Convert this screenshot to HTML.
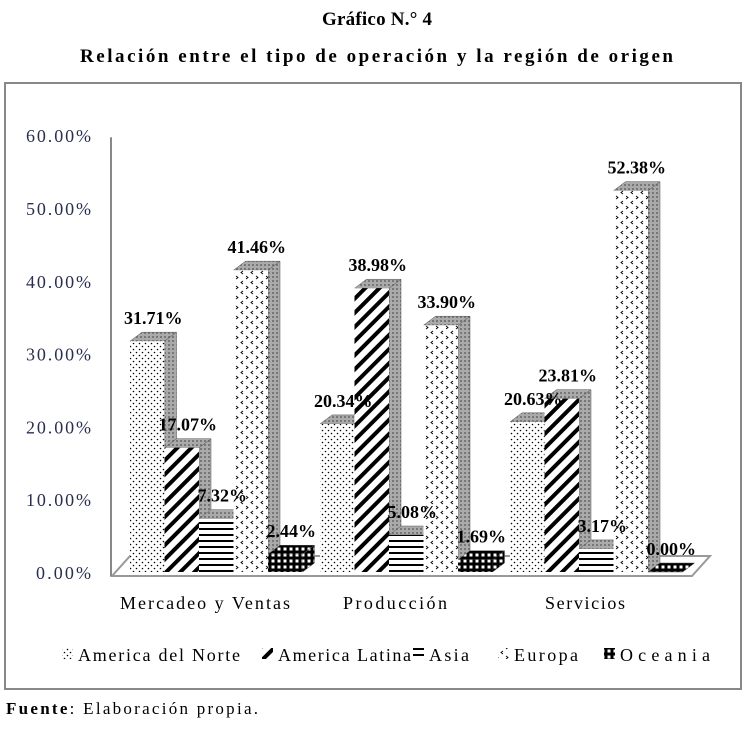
<!DOCTYPE html>
<html><head><meta charset="utf-8"><style>
body{margin:0;background:#fff;width:754px;height:745px;overflow:hidden;font-family:"Liberation Serif",serif}
</style></head><body>
<svg width="754" height="745" xmlns="http://www.w3.org/2000/svg">
<defs>
<pattern id="pN" width="6" height="6" patternUnits="userSpaceOnUse"><rect width="6" height="6" fill="#fff"/><circle cx="1.5" cy="1.5" r="0.8" fill="#000"/><circle cx="4.5" cy="4.5" r="0.8" fill="#000"/></pattern>
<pattern id="pL" width="10" height="10" patternUnits="userSpaceOnUse" patternTransform="rotate(45)"><rect width="10" height="10" fill="#fff"/><rect width="4" height="10" fill="#000"/></pattern>
<pattern id="pA" width="6" height="6" patternUnits="userSpaceOnUse"><rect width="6" height="6" fill="#fff"/><rect y="0" width="6" height="2" fill="#000"/></pattern>
<pattern id="pE" width="10" height="10" patternUnits="userSpaceOnUse"><rect width="10" height="10" fill="#fff"/><path d="M3 1 L1 2.5 L3 4 M6 6 L8 7.5 L6 9" stroke="#000" stroke-width="0.9" fill="none"/></pattern>
<pattern id="pO" width="6" height="6" patternUnits="userSpaceOnUse"><rect width="6" height="6" fill="#000"/><rect x="1.5" y="1.5" width="3" height="3" fill="#fff"/></pattern>
<pattern id="pS" width="4" height="4" patternUnits="userSpaceOnUse"><rect width="4" height="4" fill="#aaa"/><rect width="2" height="2" fill="#777"/></pattern>
</defs>
<text x="322" y="25" textLength="110" font-size="19" font-weight="bold">Gráfico N.° 4</text>
<text x="80" y="62" textLength="593" font-size="19" font-weight="bold">Relación entre el tipo de operación y la región de origen</text>
<rect x="5" y="83" width="736" height="606" fill="none" stroke="#888" stroke-width="2"/>
<g id="axes"></g>
<g id="bars"></g>
<g id="legend"></g>
<text x="6" y="714" font-size="17" textLength="252"><tspan font-weight="bold">Fuente</tspan>: Elaboración propia.</text>
</svg>
<script>
const categories=["Mercadeo y Ventas","Producción","Servicios"];
const seriesNames=["America del Norte","America Latina","Asia","Europa","Oceania"];
const norte=[31.71,20.34,20.63];
const latina=[17.07,38.98,23.81];
const asia=[7.32,5.08,3.17];
const europa=[41.46,33.90,52.38];
const oceania=[2.44,1.69,0.00];
const ticks=[0,10,20,30,40,50,60];
const series=[norte,latina,asia,europa,oceania];
const fills=["url(#pN)","url(#pL)","url(#pA)","url(#pE)","url(#pO)"];
const NS="http://www.w3.org/2000/svg";
const base=572, scale=7.28;
const y=v=>base-v*scale;
const groupX=[130,320,510], bw=34.5, dx=12, dy=9;
function mk(tag,attrs,parent,text){const e=document.createElementNS(NS,tag);for(const k in attrs)e.setAttribute(k,attrs[k]);if(text!==undefined)e.textContent=text;parent.appendChild(e);return e;}
const ax=document.getElementById('axes'),bg=document.getElementById('bars'),lg=document.getElementById('legend');
const fl=mk('polygon',{points:`112,576 692,576 710,556 130,556`,fill:'#fff',stroke:'#999','stroke-width':2},ax);


const yl=mk('line',{x1:111,y1:y(60)+2,x2:111,y2:576,stroke:'#888','stroke-width':2},ax);


ticks.forEach(t=>{
 const s=t.toFixed(2)+'%';
 const tx=mk('text',{x:91-(s.length==5?55:65),y:y(t)+7,textLength:s.length==5?55:65,'font-size':18,fill:'#2a2f4f'},ax,s);
 
 
});
const catW=[170,104,80];
categories.forEach((c,i)=>{
 const tx=mk('text',{x:groupX[i]+75-catW[i]/2,y:609,textLength:catW[i],'font-size':18},ax,c);
 
 
});
categories.forEach((c,i)=>{
 series.forEach((s,j)=>{
  const v=s[i],x0=groupX[i]+j*bw,top=y(v);
  const g=mk('g',{},bg);
  
  
  mk('polygon',{points:`${x0+bw},${top} ${x0+bw+dx},${top-dy} ${x0+bw+dx},${base-dy} ${x0+bw},${base}`,fill:j==4?'url(#pO)':'url(#pS)',stroke:'#555','stroke-width':0.5},g);
  mk('polygon',{points:`${x0},${top} ${x0+dx},${top-dy} ${x0+bw+dx},${top-dy} ${x0+bw},${top}`,fill:j==4?'url(#pO)':'url(#pS)',stroke:'#555','stroke-width':0.5},g);
  mk('rect',{x:x0,y:top,width:bw,height:Math.max(base-top,0),fill:fills[j]},g);
 });
});
categories.forEach((c,i)=>{
 series.forEach((s,j)=>{
  const v=s[i],x0=groupX[i]+j*bw;
  const tx=mk('text',{x:x0+bw/2+6,y:y(v)-17,'text-anchor':'middle','font-size':18,'font-weight':'bold'},bg,v.toFixed(2)+'%');
  
  
 });
});
const lx=[62,262,413,498,604];
const lw=[162,133,40,64,90];
seriesNames.forEach((n,j)=>{
 const g=mk('g',{},lg);
 
 
 mk('rect',{x:lx[j],y:648,width:11,height:11,fill:fills[j]},g);
 mk('text',{x:lx[j]+16,y:661,'font-size':18,textLength:lw[j]},g,n);
});
</script>
</body></html>
